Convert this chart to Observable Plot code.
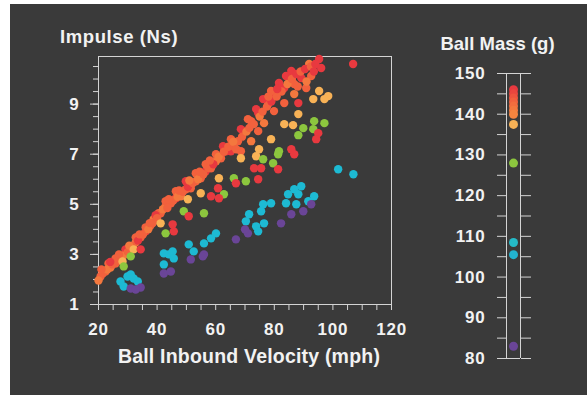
<!DOCTYPE html>
<html><head><meta charset="utf-8">
<script src="https://cdn.jsdelivr.net/npm/d3@7"></script>
<script src="https://cdn.jsdelivr.net/npm/@observablehq/plot@0.6"></script>
<style>
html,body{margin:0;padding:0;background:#fff;width:587px;height:395px;overflow:hidden;position:relative;}
#bg{position:absolute;left:10px;top:4px;width:577px;height:391px;background:#3a3a3a;}
#main,#legend{position:absolute;top:0;}
#main{left:0}
#legend{left:420px}
.t{position:absolute;color:#f2f2f2;font-family:"Liberation Sans",Arial,sans-serif;font-weight:bold;white-space:nowrap;}
</style></head><body>
<div id="bg"></div>
<div id="main"></div>
<div id="legend"></div>
<div class="t" style="left:60px;top:26.6px;font-size:18.5px;line-height:19px;letter-spacing:0.6px">Impulse (Ns)</div>
<div class="t" style="left:249px;top:345.5px;font-size:19.5px;line-height:20px;letter-spacing:0.2px;transform:translateX(-50%)">Ball Inbound Velocity (mph)</div>
<div class="t" style="left:497.5px;top:34px;font-size:18.5px;line-height:19px;transform:translateX(-50%)">Ball Mass (g)</div>
<script>
// Axis ticks
const xTicks = d3.range(20, 121, 5);
const xLabelTicks = [20, 40, 60, 80, 100, 120];
const yMinorTicks = d3.range(1, 10.51, 0.5);
const yLabelTicks = [1, 3, 5, 7, 9];
const massTicks = d3.range(80, 151, 5);

// Color stops by ball mass (g)
const massStops = [83, 107, 128, 137.5, 140, 143, 146];
const massColors = ["#6a4597", "#1dbad3", "#8cc63e", "#f8b256", "#f5843f", "#f2613d", "#e8393f"];

// Legend masses (g)
const legendMass = [146, 145, 144, 143, 142, 141, 140, 137.5, 128, 108.5, 105.5, 83];

// Main band of heaviest balls: [velocity mph, impulse Ns, mass g]
const band = [
  [96.0,10.44,146],[95.3,10.8,146],[91.9,10.6,141],[85.8,10.32,146],[92.6,10.12,143],
  [89.2,10.04,146],[86.8,9.8,143],[83.4,9.64,146],[90.9,9.64,143],[79.9,9.4,146],
  [86.8,9.4,141],[77.9,9.0,143],[83.4,9.04,143],[88.2,9.04,146],[74.5,8.64,146],
  [79.9,8.72,143],[72.1,8.32,143],[76.5,8.24,141],[69.7,7.92,146],[74.5,7.92,143],
  [67.6,7.52,143],[72.1,7.52,141],[65.2,7.12,146],[68.6,7.12,143],[66.2,7.32,143],
  [61.8,6.84,143],[63.5,7.12,146],[58.4,6.44,143],[60.1,6.72,141],[54.9,6.04,143],
  [56.6,6.32,146],[51.5,5.64,143],[53.2,5.92,143],[48.1,5.32,141],[49.8,5.6,143],
  [44.7,5.04,143],[46.4,5.24,146],[41.2,4.64,143],[42.9,4.92,143],[38.8,4.4,141],
  [40.5,4.64,143],[37.8,4.16,143],[36.1,3.92,146],[34.4,3.68,143],[32.7,3.48,141],
  [31.0,3.2,143],[29.2,3.0,143],[27.5,2.8,146],[25.8,2.64,143],[24.1,2.48,141],
  [22.4,2.32,143],[20.7,2.12,143],[20.0,1.96,141],[32.7,3.68,143],[36.1,4.08,143],
  [39.5,4.56,146],[42.9,5.12,143],[46.4,5.52,143],[49.8,5.92,146],[53.2,6.24,143],
  [56.6,6.6,143],[60.1,7.0,143],[62.5,7.32,146],[65.2,7.6,143],[68.6,8.0,146],
  [71.0,8.4,143],[73.8,8.8,146],[76.2,9.2,146],[78.9,9.52,143],[81.6,9.84,146],
  [84.0,10.12,146],[25.8,2.84,143],[29.2,3.2,146],[23.4,2.64,143],[106.9,10.6,146],
  [21.5,2.25,143],[23.0,2.4,141],[24.8,2.6,143],[26.5,2.75,143],[28.3,2.95,141],
  [30.0,3.1,143],[31.8,3.35,143],[33.5,3.55,146],[35.2,3.8,143],[37.0,4.0,141],
  [38.5,4.25,143],[40.0,4.45,143],[21.0,2.4,143],[24.0,2.7,146],[27.0,3.0,143],
  [30.5,3.35,141],[34.0,3.8,143],[37.5,4.25,143],[42.0,4.8,141],[43.5,4.85,143],
  [45.5,5.15,143],[47.0,5.3,141],[48.8,5.5,143],[50.5,5.7,146],[52.2,5.85,143],
  [54.0,6.0,141],[55.8,6.2,143],[57.5,6.45,143],[59.2,6.6,146],[44.0,5.2,143],
  [47.5,5.55,143],[51.0,5.95,141],[54.5,6.3,143],[58.0,6.75,143],[61.0,6.9,141],
  [62.8,7.1,143],[64.3,7.3,143],[66.0,7.5,141],[67.0,7.2,143],[69.0,7.7,143],
  [70.5,7.9,141],[71.5,8.05,143],[73.0,8.2,143],[75.0,8.5,141],[76.0,8.7,143],
  [77.5,8.9,143],[79.0,9.1,146],[80.8,9.3,143],[82.5,9.5,143],[84.5,9.8,141],
  [86.0,10.0,143],[87.5,10.2,146],[89.0,10.3,143],[90.5,10.4,146],[92.5,10.5,143],
  [94.0,10.6,146],[88.0,9.7,143],[91.0,9.9,141],[93.5,10.3,146],[81.0,9.6,146],[78.0,9.3,143]
];

// Other ball types: [velocity mph, impulse Ns]
const yellowMass = 137.5;
const yellow = [
  [95.3,9.52],[98.4,9.32],[93.3,9.2],[97.1,9.2],[88.2,8.6],[83.4,8.2],[86.4,8.16],
  [78.9,7.6],[74.8,7.2],[73.8,6.92],[68.6,6.84],[61.1,6.04],[54.9,5.44],[50.5,5.2],
  [28.2,2.72],[32.0,3.2],[41.2,4.24]
];
const greenMass = 128;
const green = [
  [93.6,8.32],[97.1,8.24],[93.3,8.0],[89.9,8.04],[88.2,7.76],[81.6,7.12],[81.3,7.0],
  [79.6,6.64],[76.2,6.8],[70.3,5.92],[66.2,6.04],[62.8,5.4],[56.0,4.64],[49.1,4.72],
  [42.9,3.84],[28.6,2.52],[31.0,2.92]
];
const redMass = 146;
const red = [
  [95.0,7.84],[94.3,7.6],[85.8,7.2],[86.8,7.0],[81.3,6.4],[73.1,6.44],[75.5,6.44],
  [74.5,6.0],[66.9,5.84],[60.8,5.64],[58.4,5.32],[61.1,5.24],[50.8,4.52],[45.3,4.2],
  [45.7,3.92],[34.4,3.2]
];
const cyanMass = 107;
const cyan = [
  [86.8,5.6],[84.7,5.4],[88.2,5.4],[89.2,5.72],[84.0,5.04],[87.5,5.0],[91.6,5.12],
  [93.6,5.32],[78.9,5.04],[76.2,5.0],[75.5,4.72],[71.4,4.6],[70.3,4.32],[73.8,4.12],
  [76.5,4.24],[74.5,3.92],[60.1,3.84],[58.4,3.64],[56.0,3.44],[50.8,3.4],[52.5,3.12],
  [44.0,3.0],[45.3,3.12],[42.3,3.04],[45.7,2.84],[42.3,2.6],[27.5,1.92],[29.9,2.12],
  [32.0,2.04],[33.4,1.92],[28.6,1.72],[31.0,2.2],[101.8,6.4],[107.0,6.2]
];
const purpleMass = 83;
const purple = [
  [92.6,5.0],[89.9,4.72],[85.8,4.6],[82.3,4.24],[71.0,3.84],[66.9,3.6],[70.0,4.0],
  [56.0,3.0],[51.5,2.8],[55.6,2.92],[42.3,2.24],[44.7,2.32],[31.0,1.64],[34.4,1.68],[32.7,1.6]
];

const withMass = (arr, m) => arr.map(d => [d[0], d[1], m]);
const points = [
  ...withMass(cyan, cyanMass),
  ...withMass(purple, purpleMass),
  ...band,
  ...withMass(yellow, yellowMass),
  ...withMass(green, greenMass),
  ...withMass(red, redMass)
];

const lineColor = "#d4d4d4";
const font = '"Liberation Sans", Arial, sans-serif';
const colorScale = {type: "linear", domain: massStops, range: massColors};
const style = {background: "transparent", color: "#f2f2f2", fontFamily: font, fontSize: "17px", fontWeight: "bold", letterSpacing: "0.8px", overflow: "visible"};

const main = Plot.plot({
  width: 420, height: 395,
  marginLeft: 98, marginRight: 29, marginTop: 56, marginBottom: 91,
  x: {domain: [20, 120]},
  y: {domain: [1, 10.9]},
  color: colorScale,
  style,
  marks: [
    Plot.frame({stroke: lineColor, strokeWidth: 1}),
    Plot.axisY({ticks: yMinorTicks, tickSize: 5, tickFormat: () => "", stroke: lineColor, label: null}),
    Plot.axisY({ticks: yLabelTicks, tickSize: 8, tickPadding: 11, stroke: lineColor, fill: "#f2f2f2", label: null}),
    Plot.axisX({ticks: xTicks, tickSize: 6, tickPadding: 12, stroke: lineColor, fill: "#f2f2f2",
      tickFormat: d => xLabelTicks.includes(d) ? String(d) : "", label: null}),
    Plot.dot(points, {x: d => d[0], y: d => d[1], fill: d => d[2], r: 4.2})
  ]
});
document.getElementById("main").append(main);

const legend = Plot.plot({
  width: 167, height: 395,
  marginLeft: 86, marginRight: 67, marginTop: 73, marginBottom: 37,
  x: {domain: [0, 1], axis: null},
  y: {domain: [80, 150]},
  color: colorScale,
  style,
  marks: [
    Plot.ruleX([0, 1], {stroke: lineColor}),
    Plot.ruleY([80, 150], {stroke: lineColor}),
    Plot.axisY({anchor: "left", ticks: massTicks, tickSize: 9, tickPadding: 12, stroke: lineColor, fill: "#f2f2f2",
      tickFormat: d => d % 10 === 0 ? String(d) : "", label: null}),
    Plot.axisY({anchor: "right", ticks: massTicks, tickSize: 10, stroke: lineColor, tickFormat: () => "", label: null}),
    Plot.dot(legendMass, {x: () => 0.5, y: d => d, fill: d => d, r: 4.5})
  ]
});
document.getElementById("legend").append(legend);
</script>
</body></html>
